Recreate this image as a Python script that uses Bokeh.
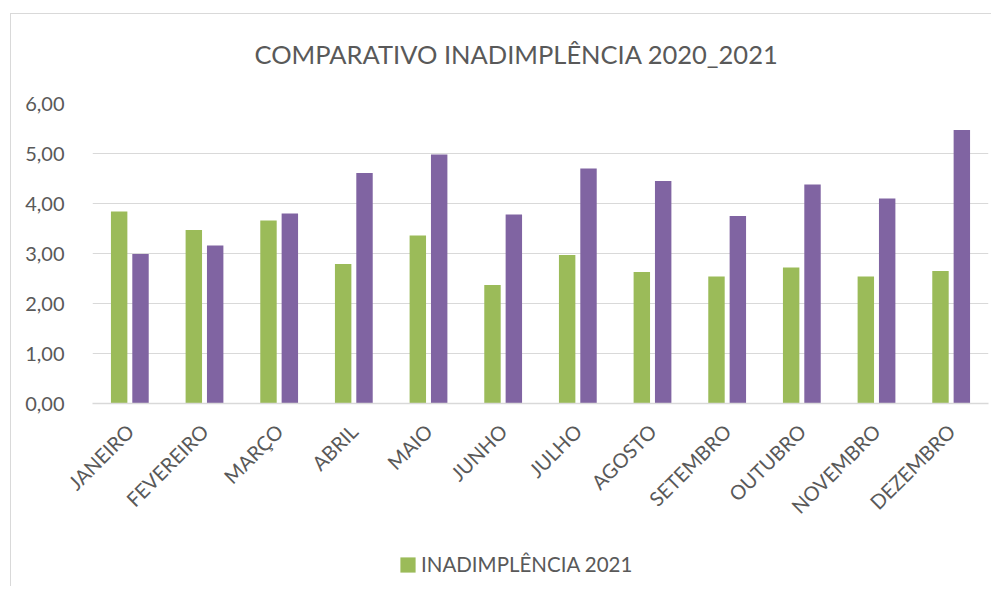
import math
from bokeh.plotting import figure
from bokeh.layouts import column
from bokeh.models import (FactorRange, Range1d, FixedTicker, Legend, LegendItem,
                          ColumnDataSource, Title)
from bokeh.transform import dodge
from bokeh.embed import file_html
from bokeh.resources import INLINE

# ---- data ----
months = ["JANEIRO", "FEVEREIRO", "MARÇO", "ABRIL", "MAIO", "JUNHO",
          "JULHO", "AGOSTO", "SETEMBRO", "OUTUBRO", "NOVEMBRO", "DEZEMBRO"]
inad_2021 = [3.84, 3.47, 3.66, 2.79, 3.36, 2.37, 2.97, 2.63, 2.54, 2.72, 2.54, 2.65]
inad_2020 = [2.99, 3.16, 3.80, 4.61, 4.98, 3.78, 4.70, 4.45, 3.75, 4.38, 4.10, 5.47]
y_ticks = [0, 1, 2, 3, 4, 5, 6]
y_tick_labels = ["0,00", "1,00", "2,00", "3,00", "4,00", "5,00", "6,00"]
legend_label = "INADIMPLÊNCIA 2021"
chart_title = "COMPARATIVO INADIMPLÊNCIA 2020_2021"

FONT = "Lato"
TXT = "#595959"
GREEN = "#9BBB59"
PURPLE = "#8064A2"
GRID = "#d9d9d9"

src = ColumnDataSource(dict(month=months, a=inad_2021, b=inad_2020))

p = figure(x_range=FactorRange(*months), y_range=Range1d(0, 6),
           width=980, height=516, output_backend="svg", toolbar_location=None,
           min_border_left=81, min_border_right=3, min_border_top=89,
           min_border_bottom=127)

# spacer between title and plot area (closest to the frame), then the title
p.add_layout(Title(text=" ", text_font_size="10px", standoff=0), "above")
title = Title(text=chart_title, align="left", offset=162, text_font=FONT,
              text_font_size="25.5px", text_font_style="normal",
              text_color=TXT, standoff=43)
p.add_layout(title, "above")

r1 = p.vbar(x=dodge("month", -0.143, range=p.x_range), top="a", width=0.22,
            source=src, fill_color=GREEN, line_color=None)
r2 = p.vbar(x=dodge("month", 0.143, range=p.x_range), top="b", width=0.22,
            source=src, fill_color=PURPLE, line_color=None)

p.xgrid.grid_line_color = None
p.ygrid.grid_line_color = GRID
p.ygrid.grid_line_width = 1
p.outline_line_color = None

p.yaxis.ticker = FixedTicker(ticks=y_ticks)
p.yaxis.major_label_overrides = dict(zip(y_ticks, y_tick_labels))
p.yaxis.axis_line_color = None
p.yaxis.major_tick_line_color = None
p.yaxis.minor_tick_line_color = None
p.yaxis.major_label_text_font = FONT
p.yaxis.major_label_text_font_size = "20px"
p.yaxis.major_label_text_color = TXT
p.yaxis.major_label_standoff = 22

p.xaxis.axis_line_color = GRID
p.xaxis.axis_line_width = 1.5
p.xaxis.major_tick_line_color = None
p.xaxis.major_label_orientation = math.pi / 4
p.xaxis.major_label_text_font = FONT
p.xaxis.major_label_text_font_size = "20px"
p.xaxis.major_label_text_color = TXT
p.xaxis.major_label_standoff = 18

# ---- legend strip (separate small figure below the chart) ----
# the green series is drawn again here only to feed the legend; the y range
# keeps these bars out of view, so only the legend shows.
p2 = figure(width=980, height=56, output_backend="svg", toolbar_location=None,
            x_range=FactorRange(*months), y_range=Range1d(10, 11),
            x_axis_type=None, y_axis_type=None, min_border=0)
p2.outline_line_color = None
p2.grid.grid_line_color = None
r_leg = p2.vbar(x=dodge("month", -0.143, range=p2.x_range), top="a", width=0.22,
                source=src, fill_color=GREEN, line_color=None)

legend = Legend(items=[LegendItem(label=legend_label, renderers=[r_leg])],
                location=(306, 10), orientation="horizontal",
                border_line_color=None, background_fill_alpha=0,
                label_text_font=FONT, label_text_font_size="20.5px",
                label_text_color=TXT, glyph_width=19, glyph_height=19,
                label_standoff=4, padding=0, margin=0)
p2.add_layout(legend, "center")

layout = column(p, p2, spacing=0)
layout.styles = {"border-left": "1px solid #d9d9d9", "border-top": "1px solid #d9d9d9"}
layout.margin = (13, 0, 0, 10)

open("out.html", "w").write(file_html(layout, INLINE))
